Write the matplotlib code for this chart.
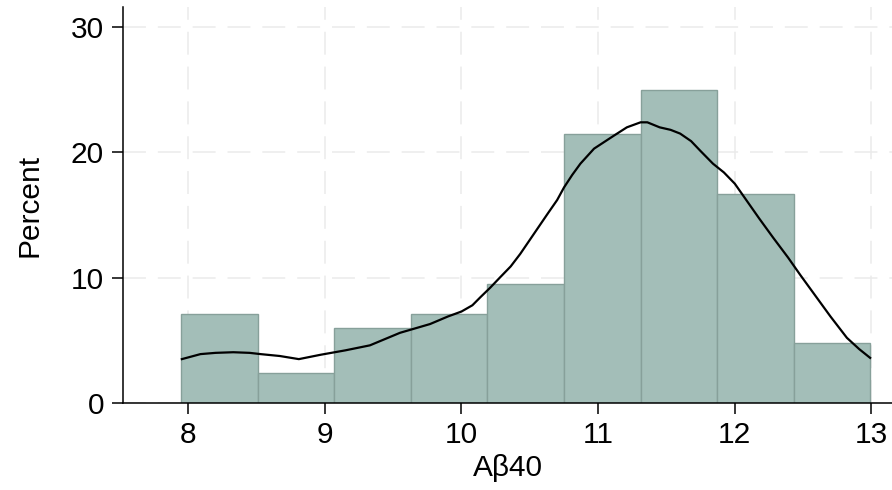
import matplotlib
matplotlib.use('Agg')
import matplotlib.pyplot as plt

# histogram of A-beta 40 (percent per bin)
bin_edges = [7.95, 8.51, 9.07, 9.63, 10.19, 10.75, 11.31, 11.87, 12.43, 12.99]
percent = [7.14, 2.38, 5.95, 7.14, 9.52, 21.43, 25.0, 16.67, 4.76]

# kernel density overlay (scaled to percent)
kde_x = [7.954, 8.09, 8.20, 8.33, 8.45, 8.53, 8.67, 8.81, 8.97, 9.15, 9.33, 9.55,
         9.77, 9.90, 10.0, 10.08, 10.14, 10.21, 10.28, 10.36, 10.43, 10.53,
         10.63, 10.70, 10.75, 10.81, 10.87, 10.97, 11.11, 11.21, 11.31,
         11.36, 11.45, 11.53, 11.60, 11.68, 11.75, 11.84, 11.92, 12.0, 12.09,
         12.18, 12.28, 12.39, 12.48, 12.58, 12.70, 12.82, 12.91, 12.99]
kde_y = [3.5, 3.9, 4.0, 4.05, 4.0, 3.9, 3.75, 3.5, 3.85, 4.2, 4.6, 5.6,
         6.3, 6.9, 7.3, 7.8, 8.46, 9.2, 10.0, 10.9, 11.9, 13.5,
         15.1, 16.2, 17.2, 18.2, 19.1, 20.3, 21.3, 22.0, 22.4,
         22.4, 22.0, 21.8, 21.5, 20.9, 20.1, 19.1, 18.4, 17.5, 16.1,
         14.7, 13.2, 11.6, 10.2, 8.7, 6.9, 5.2, 4.3, 3.6]

xticks = [8, 9, 10, 11, 12, 13]
yticks = [0, 10, 20, 30]

plt.rcParams['font.family'] = ['Liberation Sans', 'DejaVu Sans']

fig = plt.figure(figsize=(8.92, 4.90), dpi=100)
ax = fig.add_axes([0.138, 0.1776, 0.862, 0.808])

widths = [bin_edges[i + 1] - bin_edges[i] for i in range(len(percent))]
ax.bar(bin_edges[:-1], percent, width=widths, align='edge',
       color='#a3beb8', edgecolor='#87a09a', linewidth=1.0, zorder=2)
ax.plot(kde_x, kde_y, color='black', linewidth=1.6, zorder=3,
        solid_joinstyle='round')

ax.set_xlim(7.524, 13.15)
ax.set_ylim(0, 31.6)
ax.set_xticks(xticks)
ax.set_yticks(yticks)

ax.grid(True, color='#ebebeb', linewidth=1.1, linestyle=(0, (15, 7.8)), zorder=0)
ax.set_axisbelow(True)

for side in ['top', 'right']:
    ax.spines[side].set_visible(False)
for side in ['left', 'bottom']:
    ax.spines[side].set_linewidth(1.1)

ax.tick_params(axis='both', length=7.8, width=1.1, labelsize=21.5)
ax.tick_params(axis='x', pad=5)
ax.tick_params(axis='y', pad=6)
ax.set_xlabel('A\u03b240', fontsize=21.5, labelpad=4)
ax.set_ylabel('Percent', fontsize=21.5, labelpad=20)

fig.savefig('out.png', dpi=100)
